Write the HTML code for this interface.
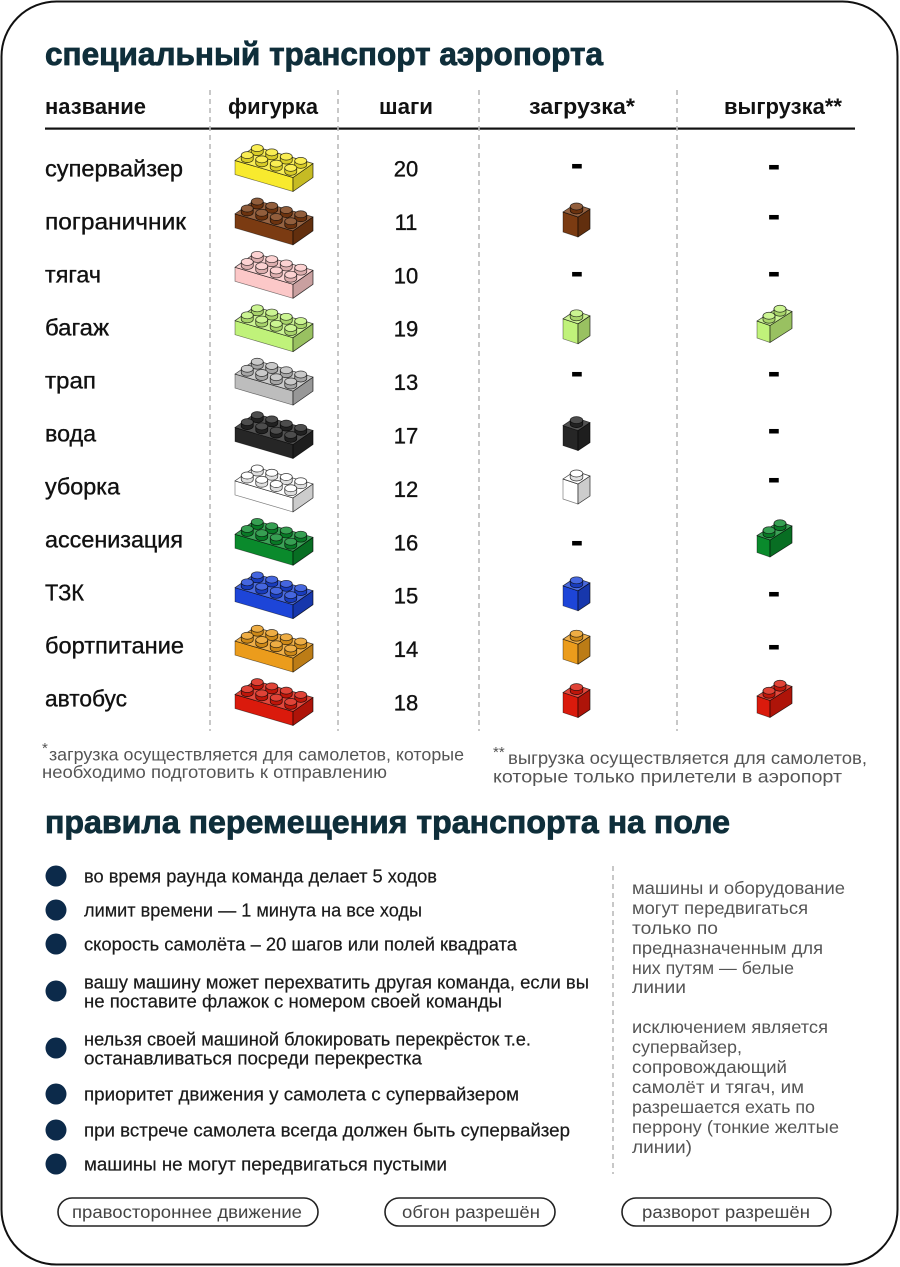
<!DOCTYPE html>
<html><head><meta charset="utf-8">
<style>
html,body{margin:0;padding:0;background:#fff;}
svg{display:block;}
text{font-family:"Liberation Sans","DejaVu Sans",sans-serif;}
</style></head>
<body>
<svg width="900" height="1267" viewBox="0 0 900 1267" xmlns="http://www.w3.org/2000/svg">
<defs>
  <g id="stud">
    <path d="M-6,-4 L-6,0 A6,3.5 0 0 0 6,0 L6,-4 Z" fill="currentColor"/>
    <path d="M-6,-4 L-6,0 A6,3.5 0 0 0 6,0 L6,-4 Z" fill="#000" fill-opacity=".12"/>
    <ellipse cx="0" cy="-4" rx="6" ry="3.5" fill="currentColor"/>
    <ellipse cx="0" cy="-4" rx="6" ry="3.5" fill="#fff" fill-opacity=".18"/>
  </g>
  <g id="stud6">
    <path d="M-6.3,-4 L-6.3,0 A6.3,3.5 0 0 0 6.3,0 L6.3,-4 Z" fill="currentColor"/>
    <path d="M-6.3,-4 L-6.3,0 A6.3,3.5 0 0 0 6.3,0 L6.3,-4 Z" fill="#000" fill-opacity=".12"/>
    <ellipse cx="0" cy="-4" rx="6.3" ry="3.5" fill="currentColor"/>
    <ellipse cx="0" cy="-4" rx="6.3" ry="3.5" fill="#fff" fill-opacity=".18"/>
  </g>
  <g id="b24" stroke="#000" stroke-opacity=".5" stroke-width=".7" stroke-linejoin="round">
    <path d="M0,0 L58,17 L58,31 L0,14 Z" fill="currentColor"/>
    <path d="M58,17 L78,3 L78,17 L58,31 Z" fill="currentColor"/>
    <path d="M58,17 L78,3 L78,17 L58,31 Z" fill="#000" fill-opacity=".2"/>
    <path d="M0,0 L58,17 L78,3 L20,-14 Z" fill="currentColor"/>
    <path d="M0,0 L58,17 L78,3 L20,-14 Z" fill="#fff" fill-opacity=".2"/>
    <use href="#stud" x="22.25" y="-8.375"/>
    <use href="#stud" x="36.75" y="-4.125"/>
    <use href="#stud" x="51.25" y="0.125"/>
    <use href="#stud" x="65.75" y="4.375"/>
    <use href="#stud" x="12.25" y="-1.375"/>
    <use href="#stud" x="26.75" y="2.875"/>
    <use href="#stud" x="41.25" y="7.125"/>
    <use href="#stud" x="55.75" y="11.375"/>
  </g>
  <g id="b11" stroke="#000" stroke-opacity=".5" stroke-width=".7" stroke-linejoin="round">
    <path d="M0,0 L15,5 L15,25 L0,20 Z" fill="currentColor"/>
    <path d="M15,5 L27,-3 L27,17 L15,25 Z" fill="currentColor"/>
    <path d="M15,5 L27,-3 L27,17 L15,25 Z" fill="#000" fill-opacity=".2"/>
    <path d="M0,0 L15,5 L27,-3 L12,-8 Z" fill="currentColor"/>
    <path d="M0,0 L15,5 L27,-3 L12,-8 Z" fill="#fff" fill-opacity=".2"/>
    <use href="#stud6" x="13.5" y="-1.5"/>
  </g>
  <g id="b12" stroke="#000" stroke-opacity=".5" stroke-width=".7" stroke-linejoin="round">
    <path d="M0,0 L13,4.5 L13,21.5 L0,17 Z" fill="currentColor"/>
    <path d="M13,4.5 L35,-9.5 L35,7.5 L13,21.5 Z" fill="currentColor"/>
    <path d="M13,4.5 L35,-9.5 L35,7.5 L13,21.5 Z" fill="#000" fill-opacity=".2"/>
    <path d="M0,0 L13,4.5 L35,-9.5 L22,-14 Z" fill="currentColor"/>
    <path d="M0,0 L13,4.5 L35,-9.5 L22,-14 Z" fill="#fff" fill-opacity=".2"/>
    <use href="#stud" x="23" y="-8.25"/>
    <use href="#stud" x="12" y="-1.25"/>
  </g>
</defs>

<!-- outer frame -->
<rect x="1.5" y="1.5" width="896" height="1263" rx="55" ry="55" fill="#fff" stroke="#111" stroke-width="2"/>

<!-- title -->
<text x="45" y="65" font-size="32" font-weight="bold" fill="#0f2e3a" stroke="#0f2e3a" stroke-width=".8" textLength="558" lengthAdjust="spacingAndGlyphs">специальный транспорт аэропорта</text>

<!-- header -->
<g font-size="22" font-weight="bold" fill="#111">
  <text x="45" y="114" textLength="101" lengthAdjust="spacingAndGlyphs">название</text>
  <text x="228" y="114" textLength="90" lengthAdjust="spacingAndGlyphs">фигурка</text>
  <text x="379" y="114" textLength="54" lengthAdjust="spacingAndGlyphs">шаги</text>
  <text x="529" y="114" textLength="106" lengthAdjust="spacingAndGlyphs">загрузка*</text>
  <text x="724" y="114" textLength="118" lengthAdjust="spacingAndGlyphs">выгрузка**</text>
</g>
<rect x="45" y="127.5" width="810" height="2.2" fill="#111"/>

<!-- dashed separators -->
<g stroke="#bbb" stroke-width="1.6" stroke-dasharray="5,4">
  <line x1="210" y1="90" x2="210" y2="731"/>
  <line x1="338" y1="90" x2="338" y2="731"/>
  <line x1="479" y1="90" x2="479" y2="731"/>
  <line x1="677" y1="90" x2="677" y2="731"/>
  <line x1="613" y1="866" x2="613" y2="1174"/>
</g>

<!-- row names -->
<g font-size="23" fill="#111" stroke="#111" stroke-width=".35">
  <text x="45" y="176.5" textLength="138" lengthAdjust="spacingAndGlyphs">супервайзер</text>
  <text x="45" y="229.5" textLength="141" lengthAdjust="spacingAndGlyphs">пограничник</text>
  <text x="45" y="282.5" textLength="56" lengthAdjust="spacingAndGlyphs">тягач</text>
  <text x="45" y="335.5" textLength="64" lengthAdjust="spacingAndGlyphs">багаж</text>
  <text x="45" y="388.5" textLength="51" lengthAdjust="spacingAndGlyphs">трап</text>
  <text x="45" y="441.5" textLength="51" lengthAdjust="spacingAndGlyphs">вода</text>
  <text x="45" y="494.5" textLength="75" lengthAdjust="spacingAndGlyphs">уборка</text>
  <text x="45" y="547.5" textLength="138" lengthAdjust="spacingAndGlyphs">ассенизация</text>
  <text x="45" y="600.5" textLength="39" lengthAdjust="spacingAndGlyphs">ТЗК</text>
  <text x="45" y="653.5" textLength="139" lengthAdjust="spacingAndGlyphs">бортпитание</text>
  <text x="45" y="706.5" textLength="82" lengthAdjust="spacingAndGlyphs">автобус</text>
</g>

<!-- steps -->
<g font-size="22" fill="#111" stroke="#111" stroke-width=".35" text-anchor="middle">
  <text x="406" y="176.5">20</text>
  <text x="406" y="229.9">11</text>
  <text x="406" y="283.3">10</text>
  <text x="406" y="336.7">19</text>
  <text x="406" y="390.1">13</text>
  <text x="406" y="443.5">17</text>
  <text x="406" y="496.9">12</text>
  <text x="406" y="550.3">16</text>
  <text x="406" y="603.7">15</text>
  <text x="406" y="657.1">14</text>
  <text x="406" y="710.5">18</text>
</g>

<!-- 2x4 bricks -->
<use href="#b24" transform="translate(235,160.5)" color="#f8ea2e"/>
<use href="#b24" transform="translate(235,213.9)" color="#7b3b12"/>
<use href="#b24" transform="translate(235,267.3)" color="#fcc8c8"/>
<use href="#b24" transform="translate(235,320.7)" color="#c0f27a"/>
<use href="#b24" transform="translate(235,374.1)" color="#bdbdbd"/>
<use href="#b24" transform="translate(235,427.5)" color="#262626"/>
<use href="#b24" transform="translate(235,480.9)" color="#ffffff"/>
<use href="#b24" transform="translate(235,534.3)" color="#0a8a2c"/>
<use href="#b24" transform="translate(235,587.7)" color="#1d45d8"/>
<use href="#b24" transform="translate(235,641.1)" color="#eb9c1c"/>
<use href="#b24" transform="translate(235,694.5)" color="#da1a0c"/>

<!-- загрузка 1x1 -->
<use href="#b11" transform="translate(563,212)" color="#7b3b12"/>
<use href="#b11" transform="translate(563,318.8)" color="#c0f27a"/>
<use href="#b11" transform="translate(563,425.6)" color="#262626"/>
<use href="#b11" transform="translate(563,479)" color="#ffffff"/>
<use href="#b11" transform="translate(563,585.8)" color="#1d45d8"/>
<use href="#b11" transform="translate(563,639.2)" color="#eb9c1c"/>
<use href="#b11" transform="translate(563,692.6)" color="#da1a0c"/>

<!-- выгрузка 1x2 -->
<use href="#b12" transform="translate(757,321)" color="#c0f27a"/>
<use href="#b12" transform="translate(757,535.5)" color="#0a8a2c"/>
<use href="#b12" transform="translate(757,696)" color="#da1a0c"/>

<!-- dashes -->
<g font-size="38" font-weight="bold" fill="#000" text-anchor="middle">
  <text x="577" y="176">-</text>
  <text x="577" y="284">-</text>
  <text x="577" y="384">-</text>
  <text x="577" y="553">-</text>
  <text x="774" y="177">-</text>
  <text x="774" y="227">-</text>
  <text x="774" y="284">-</text>
  <text x="774" y="384">-</text>
  <text x="774" y="441">-</text>
  <text x="774" y="490">-</text>
  <text x="774" y="604">-</text>
  <text x="774" y="657">-</text>
</g>

<!-- footnotes -->
<g font-size="17.5" fill="#555">
  <text x="42" y="753" font-size="15">*</text>
  <text x="49" y="760.5" textLength="415" lengthAdjust="spacingAndGlyphs">загрузка осуществляется для самолетов, которые</text>
  <text x="42" y="778" textLength="345" lengthAdjust="spacingAndGlyphs">необходимо подготовить к отправлению</text>
  <text x="493" y="757" font-size="15">**</text>
  <text x="508" y="764" textLength="359" lengthAdjust="spacingAndGlyphs">выгрузка осуществляется для самолетов,</text>
  <text x="493" y="782.5" textLength="349" lengthAdjust="spacingAndGlyphs">которые только прилетели в аэропорт</text>
</g>

<!-- second title -->
<text x="45" y="833" font-size="32" font-weight="bold" fill="#0f2e3a" stroke="#0f2e3a" stroke-width=".8" textLength="685" lengthAdjust="spacingAndGlyphs">правила перемещения транспорта на поле</text>

<!-- bullets -->
<g fill="#0c2a4a">
  <circle cx="56" cy="876" r="10.5"/>
  <circle cx="56" cy="910" r="10.5"/>
  <circle cx="56" cy="944" r="10.5"/>
  <circle cx="56" cy="991" r="10.5"/>
  <circle cx="56" cy="1048" r="10.5"/>
  <circle cx="56" cy="1094" r="10.5"/>
  <circle cx="56" cy="1130" r="10.5"/>
  <circle cx="56" cy="1164" r="10.5"/>
</g>
<g font-size="18" fill="#1a1a1a" stroke="#1a1a1a" stroke-width=".2">
  <text x="84" y="882.5" textLength="353" lengthAdjust="spacingAndGlyphs">во время раунда команда делает 5 ходов</text>
  <text x="84" y="916.5" textLength="338" lengthAdjust="spacingAndGlyphs">лимит времени — 1 минута на все ходы</text>
  <text x="84" y="950.5" textLength="433" lengthAdjust="spacingAndGlyphs">скорость самолёта – 20 шагов или полей квадрата</text>
  <text x="84" y="988.5" textLength="505" lengthAdjust="spacingAndGlyphs">вашу машину может перехватить другая команда, если вы</text>
  <text x="84" y="1007.5" textLength="418" lengthAdjust="spacingAndGlyphs">не поставите флажок с номером своей команды</text>
  <text x="84" y="1045.5" textLength="447" lengthAdjust="spacingAndGlyphs">нельзя своей машиной блокировать перекрёсток т.е.</text>
  <text x="84" y="1064.5" textLength="338" lengthAdjust="spacingAndGlyphs">останавливаться посреди перекрестка</text>
  <text x="84" y="1100.5" textLength="435" lengthAdjust="spacingAndGlyphs">приоритет движения у самолета с супервайзером</text>
  <text x="84" y="1136.5" textLength="486" lengthAdjust="spacingAndGlyphs">при встрече самолета всегда должен быть супервайзер</text>
  <text x="84" y="1170.5" textLength="363" lengthAdjust="spacingAndGlyphs">машины не могут передвигаться пустыми</text>
</g>

<!-- right column -->
<g font-size="17.5" fill="#555">
  <text x="632" y="894" textLength="213" lengthAdjust="spacingAndGlyphs">машины и оборудование</text>
  <text x="632" y="914" textLength="176" lengthAdjust="spacingAndGlyphs">могут передвигаться</text>
  <text x="632" y="934" textLength="86" lengthAdjust="spacingAndGlyphs">только по</text>
  <text x="632" y="954" textLength="191" lengthAdjust="spacingAndGlyphs">предназначенным для</text>
  <text x="632" y="974" textLength="162" lengthAdjust="spacingAndGlyphs">них путям — белые</text>
  <text x="632" y="993" textLength="54" lengthAdjust="spacingAndGlyphs">линии</text>
  <text x="632" y="1033" textLength="196" lengthAdjust="spacingAndGlyphs">исключением является</text>
  <text x="632" y="1053" textLength="110" lengthAdjust="spacingAndGlyphs">супервайзер,</text>
  <text x="632" y="1073" textLength="155" lengthAdjust="spacingAndGlyphs">сопровождающий</text>
  <text x="632" y="1093" textLength="172" lengthAdjust="spacingAndGlyphs">самолёт и тягач, им</text>
  <text x="632" y="1113" textLength="183" lengthAdjust="spacingAndGlyphs">разрешается ехать по</text>
  <text x="632" y="1133" textLength="207" lengthAdjust="spacingAndGlyphs">перрону (тонкие желтые</text>
  <text x="632" y="1153" textLength="60" lengthAdjust="spacingAndGlyphs">линии)</text>
</g>

<!-- pills -->
<g fill="none" stroke="#222" stroke-width="1.6">
  <rect x="58" y="1198" width="260" height="28" rx="14" ry="14"/>
  <rect x="385" y="1198" width="170" height="28" rx="14" ry="14"/>
  <rect x="622" y="1198" width="209" height="28" rx="14" ry="14"/>
</g>
<g font-size="17.5" fill="#444">
  <text x="72" y="1218" textLength="230" lengthAdjust="spacingAndGlyphs">правостороннее движение</text>
  <text x="402" y="1218" textLength="138" lengthAdjust="spacingAndGlyphs">обгон разрешён</text>
  <text x="642" y="1218" textLength="168" lengthAdjust="spacingAndGlyphs">разворот разрешён</text>
</g>
</svg>
</body></html>
